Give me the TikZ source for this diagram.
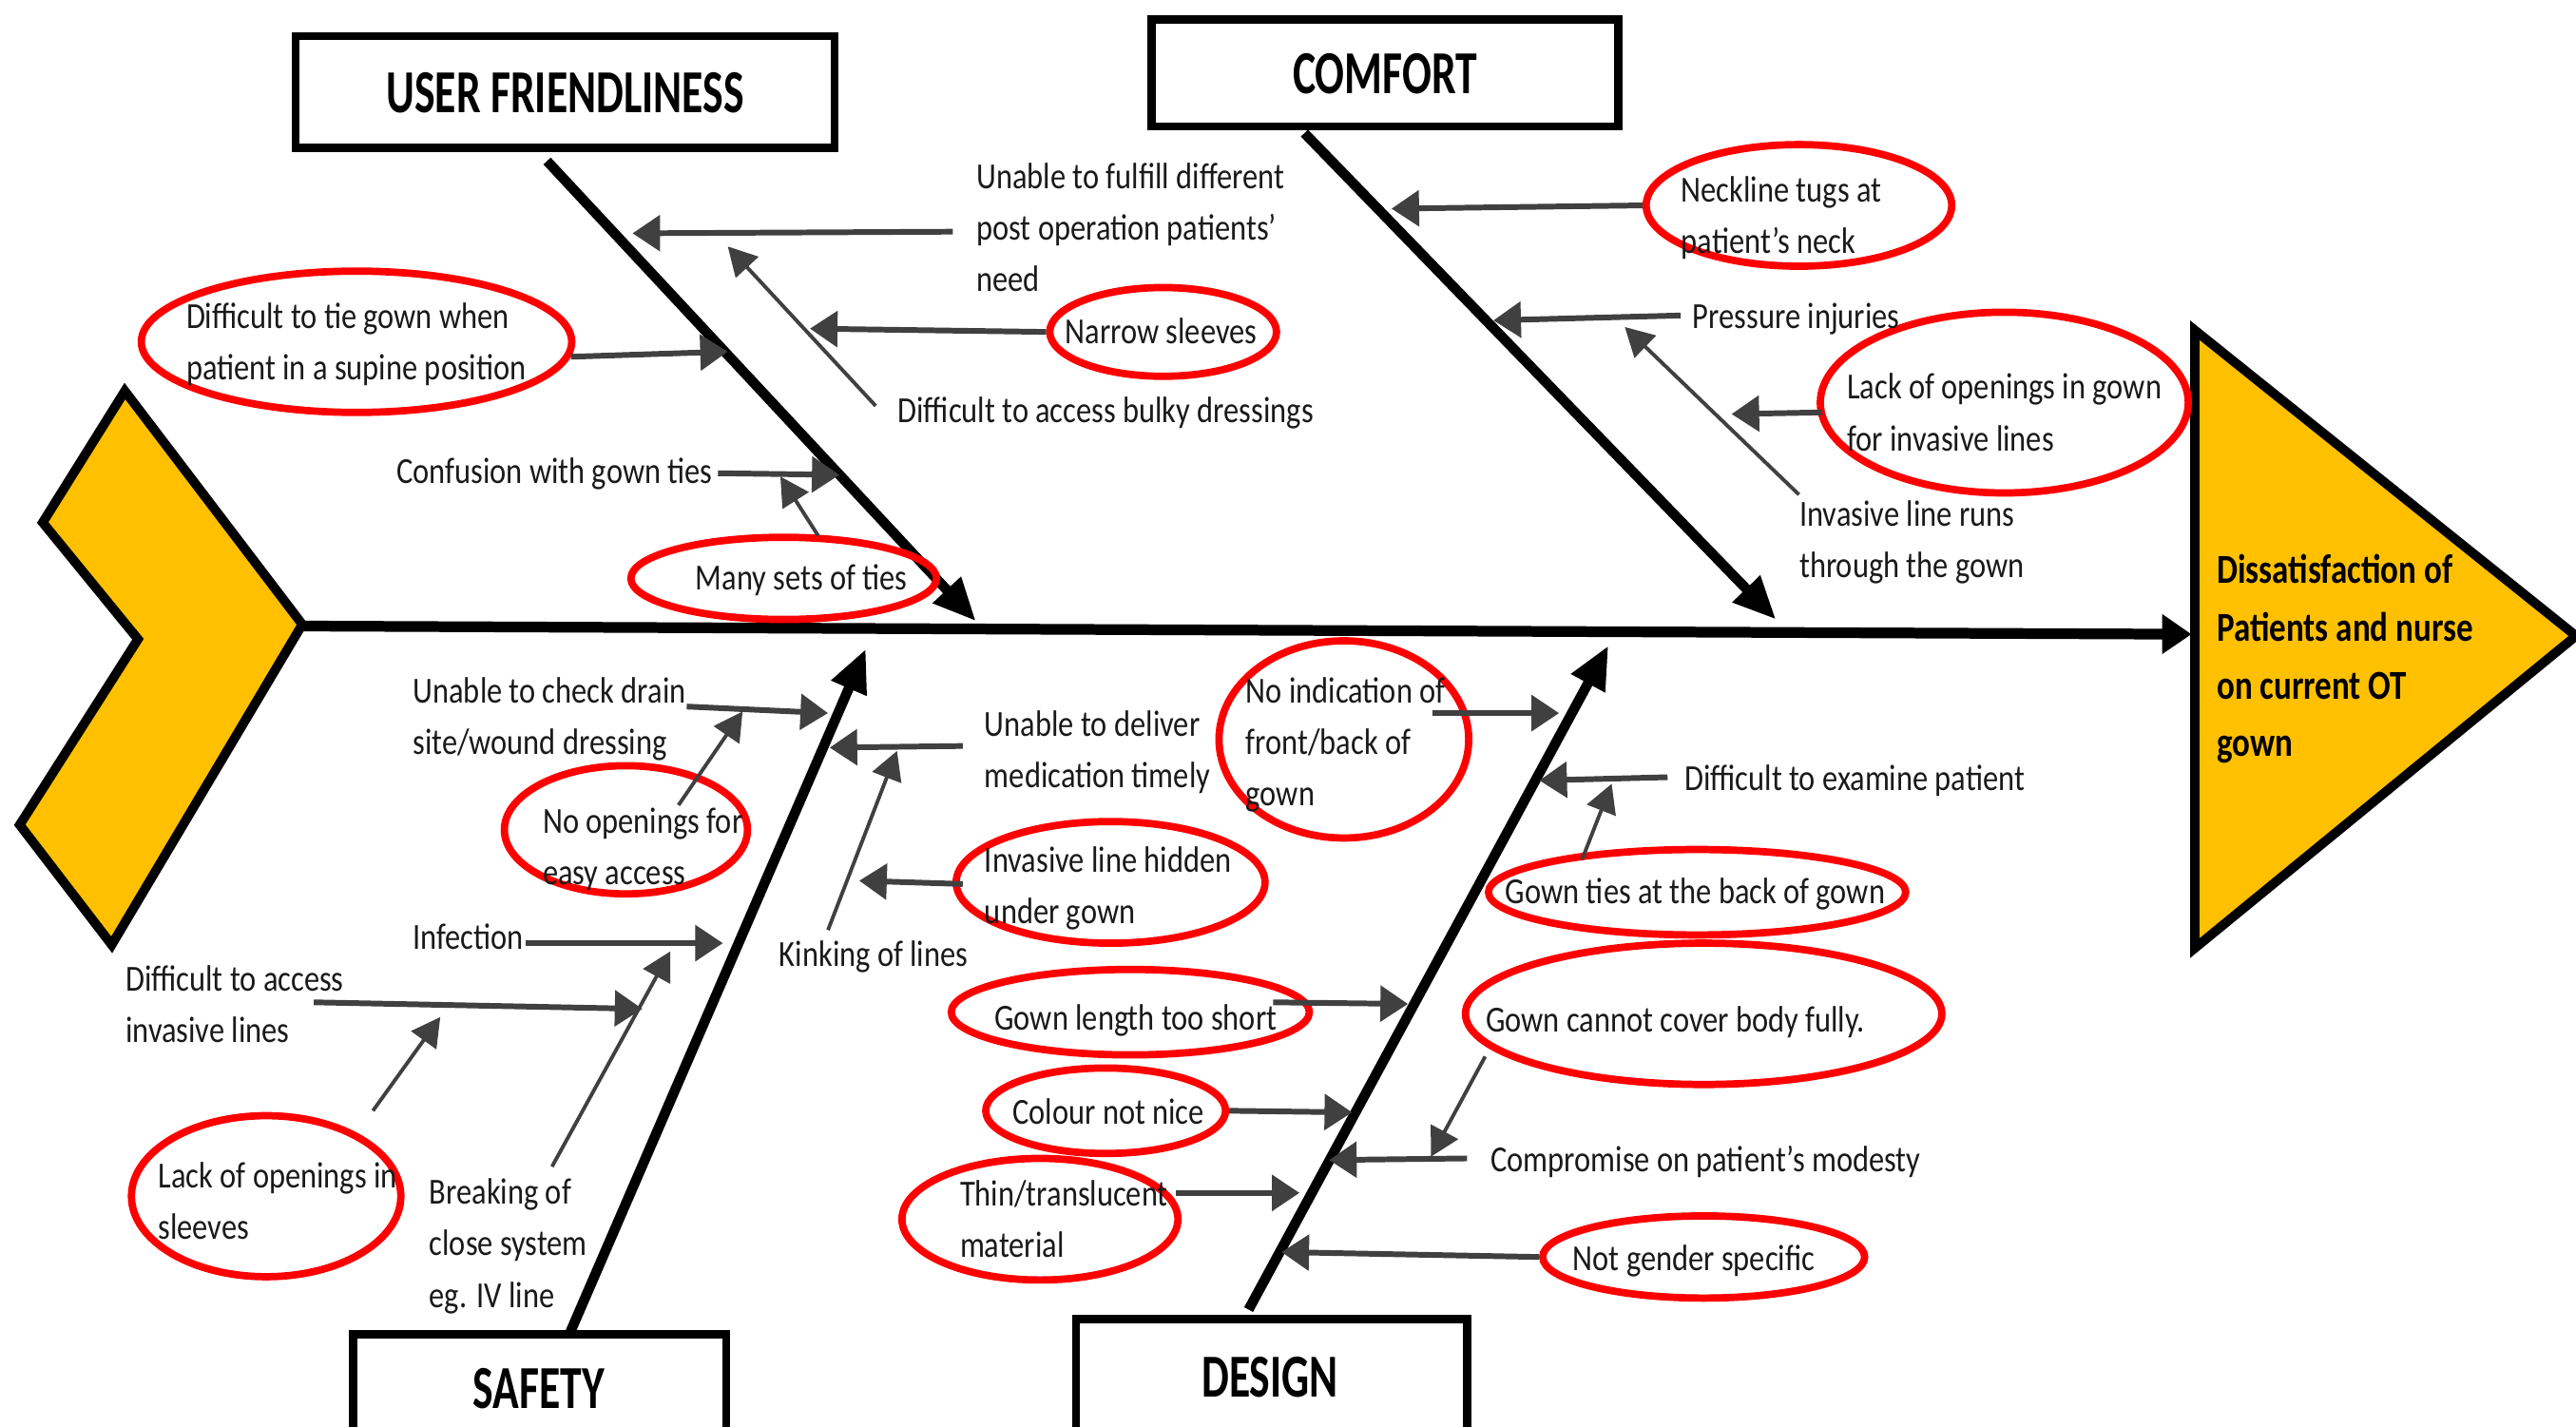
\documentclass[tikz,border=0pt]{standalone}
\usepackage{fontspec}
\setmainfont{Carlito}[FakeStretch=0.84]
\newfontfamily\headfont{Carlito}[FakeStretch=0.71]
\newfontfamily\resfont{Carlito}[FakeStretch=0.81]
\usetikzlibrary{arrows.meta,shapes.geometric}
\definecolor{gold}{HTML}{FFC000}
\definecolor{arrgray}{HTML}{404040}
\definecolor{ered}{HTML}{FF0000}
\definecolor{txtblack}{HTML}{1A1A1A}
\newcommand\ml[1]{\parbox[t]{8cm}{\raggedright #1}}
\begin{document}
\begin{tikzpicture}[x=0.017283cm, y=-0.017283cm,
 txt/.style={anchor=base west, inner sep=0pt, text=txtblack, font=\fontsize{11}{15.4}\selectfont},
 headbox/.style 2 args={draw, line width=2.5pt, minimum width=#1*0.017283cm, minimum height=#2*0.017283cm, inner sep=0pt},
 headtxt/.style={anchor=base, inner sep=0pt, font=\headfont\bfseries\fontsize{18.3}{20}\selectfont},
 ell/.style 2 args={ellipse, draw=ered, line width=2.2pt, minimum width=#1*0.017283cm, minimum height=#2*0.017283cm, inner sep=0pt},
 garrow/.style={draw=arrgray, line width=1.7pt, -{Triangle[length=2.9mm,width=3.7mm]}},
 tarrow/.style={draw=arrgray, line width=1.1pt, -{Triangle[length=3mm,width=3.2mm]}},
 bone/.style={line width=3pt, -{Triangle[length=4.5mm,width=3.8mm]}},
 shapeline/.style={draw, line width=2.8pt, fill=gold, line join=miter}
]
\fill[white] (0,0) rectangle (1568,868);
\useasboundingbox (0,0) rectangle (1568,868);

% head and tail
\draw[shapeline] (76,238) -- (184,380) -- (68,575) -- (12,502) -- (84,389) -- (26,318) -- cycle;
\draw[shapeline] (1336,201) -- (1568,387) -- (1336,577) -- cycle;
\coordinate (chevtip) at (184,381);
\coordinate (triL) at (1334,386);
\draw[line width=3.2pt, -{Triangle[length=3.1mm,width=4mm]}] (chevtip) -- (triL);
\node[anchor=base west, inner sep=0pt, font=\resfont\bfseries\fontsize{12.3}{17.3}\selectfont] (result) at (1349,355)
  {\ml{Dissatisfaction of\\Patients and nurse\\on current OT\\gown}};

% category boxes
\node[headbox={328}{68}] (uf) at (344,56) {};
\node[headtxt] (uft) at (344,68.5) {USER FRIENDLINESS};
\node[headbox={284}{65}] (cf) at (843,44.5) {};
\node[headtxt] (cft) at (843,57) {COMFORT};
\node[headbox={227}{66}] (sf) at (328.5,845) {};
\node[headtxt] (sft) at (328,857) {SAFETY};
\node[headbox={238}{70}] (dg) at (774,838) {};
\node[headtxt] (dgt) at (773,850) {DESIGN};

% bones
\coordinate (ufs) at (333,98);   \coordinate (ufe) at (594,378);
\coordinate (cfs) at (794,81);   \coordinate (cfe) at (1081,377);
\coordinate (sfs) at (347,811);  \coordinate (sfe) at (527,395);
\coordinate (dgs) at (760,797);  \coordinate (dge) at (979,393);
\draw[bone] (ufs) -- (ufe);
\draw[bone] (cfs) -- (cfe);
\draw[bone] (sfs) -- (sfe);
\draw[bone] (dgs) -- (dge);

% ellipses
\node[ell={138}{54}] (e_narrow) at (708,202) {};
\node[ell={262}{86}] (e_tie) at (217,208) {};
\node[ell={186}{50}] (e_many) at (477,352) {};
\node[ell={186}{74}] (e_neck) at (1095,125) {};
\node[ell={224}{110}] (e_lackgown) at (1220,245) {};
\node[ell={148}{78}] (e_noopen) at (381,505) {};
\node[ell={164}{98}] (e_lacksleeve) at (162,728) {};
\node[ell={188}{74}] (e_hidden) at (676,537) {};
\node[ell={152}{120}] (e_noind) at (818,450) {};
\node[ell={218}{52}] (e_length) at (688,616) {};
\node[ell={146}{52}] (e_colour) at (673,676) {};
\node[ell={168}{74}] (e_thin) at (633,742) {};
\node[ell={254}{52}] (e_ties) at (1033,543) {};
\node[ell={290}{86}] (e_cover) at (1037,617) {};
\node[ell={196}{50}] (e_gender) at (1037,765) {};

% texts
\node[txt] (t_fulfill) at (594,115) {\ml{Unable to fulfill different\\post operation patients’\\need}};
\node[txt] (t_narrow) at (648,209) {Narrow sleeves};
\node[txt] (t_bulky) at (546,257) {Difficult to access bulky dressings};
\node[txt] (t_tie) at (113,200) {\ml{Difficult to tie gown when\\patient in a supine position}};
\node[txt] (t_confusion) at (241,294) {Confusion with gown ties};
\node[txt] (t_many) at (423,359) {Many sets of ties};
\node[txt] (t_neck) at (1023,123) {\ml{Neckline tugs at\\patient’s neck}};
\node[txt] (t_pressure) at (1030,200) {Pressure injuries};
\node[txt] (t_runs) at (1095,320) {\ml{Invasive line runs\\through the gown}};
\node[txt] (t_lackgown) at (1124,243) {\ml{Lack of openings in gown\\for invasive lines}};
\node[txt] (t_drain) at (251,428) {\ml{Unable to check drain\\site/wound dressing}};
\node[txt] (t_noopen) at (330,507) {\ml{No openings for\\easy access}};
\node[txt] (t_infection) at (251,578) {Infection};
\node[txt] (t_diffinv) at (76,603) {\ml{Difficult to access\\invasive lines}};
\node[txt] (t_breaking) at (261,733) {\ml{Breaking of\\close system\\eg. IV line}};
\node[txt] (t_lacksleeve) at (96,723) {\ml{Lack of openings in\\sleeves}};
\node[txt] (t_deliver) at (599,448) {\ml{Unable to deliver\\medication timely}};
\node[txt] (t_kinking) at (474,588) {Kinking of lines};
\node[txt] (t_hidden) at (599,531) {\ml{Invasive line hidden\\under gown}};
\node[txt] (t_noind) at (758,428) {\ml{No indication of\\front/back of\\gown}};
\node[txt] (t_length) at (605,627) {Gown length too short};
\node[txt] (t_colour) at (616,684) {Colour not nice};
\node[txt] (t_thin) at (584,734) {\ml{Thin/translucent\\material}};
\node[txt] (t_examine) at (1025,481) {Difficult to examine patient};
\node[txt] (t_ties) at (916,550) {Gown ties at the back of gown};
\node[txt] (t_cover) at (904,628) {Gown cannot cover body fully.};
\node[txt] (t_modesty) at (907,713) {Compromise on patient’s modesty};
\node[txt] (t_gender) at (957,773) {Not gender specific};

% arrow end points
\coordinate (a1s) at (580,141);  \coordinate (a1e) at (385,142);
\coordinate (a2e) at (493,200);
\coordinate (a3s) at (533,247);  \coordinate (a3e) at (443,150);
\coordinate (a4e) at (443,214);
\coordinate (a5s) at (437,288);  \coordinate (a5e) at (511,289);
\coordinate (a6s) at (498,326);  \coordinate (a6e) at (475,290);
\coordinate (a7e) at (847,127);
\coordinate (a8s) at (1023,192); \coordinate (a8e) at (909,195);
\coordinate (a9s) at (1095,301); \coordinate (a9e) at (989,199);
\coordinate (a10s) at (1109,251); \coordinate (a10e) at (1054,252);
\coordinate (a11s) at (418,430); \coordinate (a11e) at (504,434);
\coordinate (a12s) at (413,490); \coordinate (a12e) at (452,433);
\coordinate (a13s) at (320,574); \coordinate (a13e) at (440,574);
\coordinate (a14s) at (191,610); \coordinate (a14e) at (391,614);
\coordinate (a15s) at (336,710); \coordinate (a15e) at (408,579);
\coordinate (a16s) at (227,676); \coordinate (a16e) at (268,619);
\coordinate (a17s) at (586,454); \coordinate (a17e) at (505,455);
\coordinate (a18s) at (504,566); \coordinate (a18e) at (546,457);
\coordinate (a19s) at (586,538); \coordinate (a19e) at (523,536);
\coordinate (a20s) at (872,434); \coordinate (a20e) at (949,434);
\coordinate (a21s) at (775,610); \coordinate (a21e) at (857,611);
\coordinate (a22e) at (823,677);
\coordinate (a23s) at (716,726); \coordinate (a23e) at (791,726);
\coordinate (a24s) at (1015,473); \coordinate (a24e) at (937,475);
\coordinate (a25s) at (963,523); \coordinate (a25e) at (981,477);
\coordinate (a26s) at (904,643); \coordinate (a26e) at (871,704);
\coordinate (a27s) at (893,705); \coordinate (a27e) at (809,706);
\coordinate (a28e) at (780,762);

% arrows
\draw[garrow] (a1s) -- (a1e);
\draw[garrow] (e_narrow.west) -- (a2e);
\draw[tarrow] (a3s) -- (a3e);
\draw[garrow] (e_tie.-4) -- (a4e);
\draw[garrow] (a5s) -- (a5e);
\draw[tarrow] (a6s) -- (a6e);
\draw[garrow] (e_neck.west) -- (a7e);
\draw[garrow] (a8s) -- (a8e);
\draw[tarrow] (a9s) -- (a9e);
\draw[garrow] (a10s) -- (a10e);
\draw[garrow] (a11s) -- (a11e);
\draw[tarrow] (a12s) -- (a12e);
\draw[garrow] (a13s) -- (a13e);
\draw[garrow] (a14s) -- (a14e);
\draw[tarrow] (a15s) -- (a15e);
\draw[tarrow] (a16s) -- (a16e);
\draw[garrow] (a17s) -- (a17e);
\draw[tarrow] (a18s) -- (a18e);
\draw[garrow] (a19s) -- (a19e);
\draw[garrow] (a20s) -- (a20e);
\draw[garrow] (a21s) -- (a21e);
\draw[garrow] (e_colour.east) -- (a22e);
\draw[garrow] (a23s) -- (a23e);
\draw[garrow] (a24s) -- (a24e);
\draw[tarrow] (a25s) -- (a25e);
\draw[tarrow] (a26s) -- (a26e);
\draw[garrow] (a27s) -- (a27e);
\draw[garrow] (e_gender.west) -- (a28e);
\end{tikzpicture}
\end{document}
